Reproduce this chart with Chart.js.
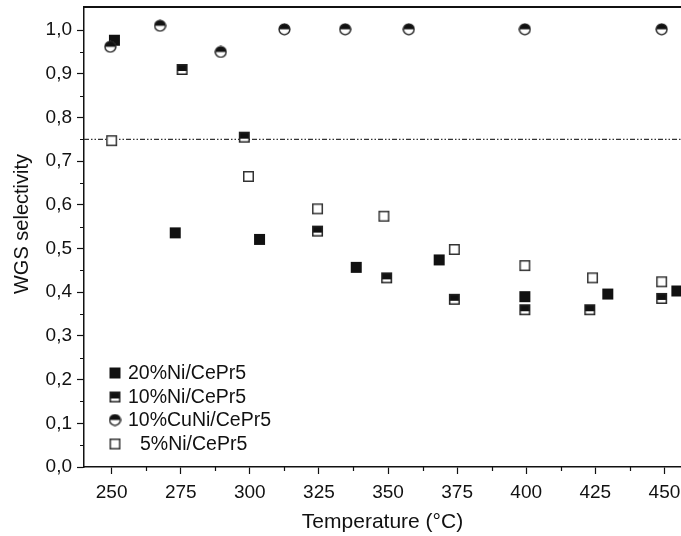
<!DOCTYPE html>
<html>
<head>
<meta charset="utf-8">
<script src="https://cdn.jsdelivr.net/npm/chart.js@4.4.1/dist/chart.umd.min.js"></script>
<style>
  html, body { margin: 0; padding: 0; background: #fff; }
  #wrap { width: 681px; height: 536px; position: relative; }
</style>
</head>
<body>
<div id="wrap"><canvas id="chart" width="681" height="536"></canvas></div>
<script>
// data
const temps20 = [251, 273, 303.5, 338.5, 368.5, 399.5, 429.5, 454.5];
const sel20 = [0.977, 0.536, 0.521, 0.457, 0.474, 0.390, 0.396, 0.403];

const temps10 = [275.5, 298, 324.5, 349.5, 374, 399.5, 423, 449];
const sel10 = [0.910, 0.755, 0.540, 0.433, 0.384, 0.360, 0.360, 0.386];

const tempsCuNi = [249.5, 267.5, 289.5, 312.5, 334.5, 357.5, 399.5, 449];
const selCuNi = [0.962, 1.010, 0.950, 1.002, 1.002, 1.002, 1.002, 1.002];

const temps5 = [250, 299.5, 324.5, 348.5, 374, 399.5, 424, 449];
const sel5 = [0.747, 0.665, 0.591, 0.574, 0.498, 0.461, 0.433, 0.424];

const refTemps = [240, 456];
const refSel = [0.75, 0.75];

const xTicks = [250, 275, 300, 325, 350, 375, 400, 425, 450];
const yTicks = [0, 0.1, 0.2, 0.3, 0.4, 0.5, 0.6, 0.7, 0.8, 0.9, 1.0];

const labels = ['20%Ni/CePr5', '10%Ni/CePr5', '10%CuNi/CePr5', '5%Ni/CePr5'];
const yTitle = 'WGS selectivity';

const FONT = "'Liberation Sans', Arial, sans-serif";
const INK = '#111';

// marker images
function makeMarker(kind) {
  const c = document.createElement('canvas');
  c.width = 13; c.height = 13;
  const g = c.getContext('2d');
  if (kind === 'full') {
    g.fillStyle = INK;
    g.fillRect(1, 1, 11, 11);
  } else if (kind === 'halfSquare') {
    g.fillStyle = '#fff';
    g.fillRect(1, 1, 11, 11);
    g.fillStyle = INK;
    g.fillRect(1, 1, 11, 7);
    g.strokeStyle = '#222';
    g.lineWidth = 1.5;
    g.strokeRect(1.75, 1.75, 9.5, 9.5);
  } else if (kind === 'halfCircle') {
    g.fillStyle = '#fff';
    g.beginPath(); g.arc(6.5, 6.5, 5.7, 0, Math.PI * 2); g.fill();
    g.fillStyle = INK;
    g.beginPath(); g.arc(6.5, 6.5, 5.7, Math.PI, Math.PI * 2); g.closePath(); g.fill();
    g.strokeStyle = '#222';
    g.lineWidth = 1.4;
    g.beginPath(); g.arc(6.5, 6.5, 5.4, 0, Math.PI * 2); g.stroke();
  } else {
    g.fillStyle = '#fff';
    g.fillRect(1, 1, 11, 11);
    g.strokeStyle = '#333';
    g.lineWidth = 1.5;
    g.strokeRect(1.75, 1.75, 9.5, 9.5);
  }
  return c;
}

const markers = [makeMarker('full'), makeMarker('halfSquare'), makeMarker('halfCircle'), makeMarker('open')];

function pts(xs, ys) {
  return xs.map((t, i) => ({ x: t, y: ys[i] }));
}

function midpoints(arr) {
  const out = [];
  for (let i = 0; i < arr.length - 1; i++) out.push((arr[i] + arr[i + 1]) / 2);
  return out;
}

// top frame line, minor ticks, y title and the in-plot legend
const frame = {
  id: 'frame',
  afterDraw(chart) {
    const { ctx, chartArea: a, scales: { x, y } } = chart;
    ctx.save();
    ctx.strokeStyle = INK;
    ctx.lineWidth = 2;
    ctx.beginPath();
    ctx.moveTo(a.left, a.top);
    ctx.lineTo(a.right, a.top);
    ctx.stroke();

    ctx.lineWidth = 1.2;
    ctx.beginPath();
    midpoints(xTicks).forEach(v => {
      const px = Math.round(x.getPixelForValue(v)) + 0.5;
      ctx.moveTo(px, a.bottom); ctx.lineTo(px, a.bottom + 4);
    });
    midpoints(yTicks).forEach(v => {
      const py = Math.round(y.getPixelForValue(v)) + 0.5;
      ctx.moveTo(a.left, py); ctx.lineTo(a.left - 4, py);
    });
    ctx.stroke();

    ctx.fillStyle = INK;
    ctx.textBaseline = 'middle';

    // y axis title
    ctx.save();
    ctx.translate(22, 224);
    ctx.rotate(-Math.PI / 2);
    ctx.textAlign = 'center';
    ctx.font = '20px ' + FONT;
    ctx.fillText(yTitle, 0, 0);
    ctx.restore();

    // legend
    const rowY = [373, 397, 420, 444];
    const indent = [0, 0, 0, 12];
    ctx.font = '19.5px ' + FONT;
    chart.data.datasets.slice(0, 4).forEach((ds, i) => {
      const m = markers[i];
      ctx.drawImage(m, 115 - m.width / 2, rowY[i] - m.height / 2);
      ctx.fillText(ds.label, 128 + indent[i], rowY[i] + 1);
    });
    ctx.restore();
  }
};

const datasets = [
  { label: labels[0], data: pts(temps20, sel20), pointStyle: markers[0], order: 2 },
  { label: labels[1], data: pts(temps10, sel10), pointStyle: markers[1], order: 1 },
  { label: labels[2], data: pts(tempsCuNi, selCuNi), pointStyle: markers[2], order: 0 },
  { label: labels[3], data: pts(temps5, sel5), pointStyle: markers[3], order: 3 },
].map(ds => Object.assign({ showLine: false, pointRadius: 6, pointHoverRadius: 6, clip: false }, ds));

datasets.push({
  label: 'ref',
  data: pts(refTemps, refSel),
  showLine: true,
  pointRadius: 0,
  borderColor: '#333',
  borderWidth: 1.2,
  borderDash: [5, 2, 1.5, 2, 1.5, 2],
  order: 9
});

new Chart(document.getElementById('chart'), {
  type: 'scatter',
  data: { datasets },
  options: {
    responsive: false,
    animation: false,
    events: [],
    layout: { autoPadding: false, padding: { top: 7, right: 0, left: 0, bottom: 0 } },
    plugins: { legend: { display: false }, tooltip: { enabled: false } },
    scales: {
      x: {
        type: 'linear',
        min: 240,
        max: 456,
        afterBuildTicks: s => { s.ticks = xTicks.map(v => ({ value: v })); },
        afterFit: s => { s.height = 69; s.paddingLeft = 0; s.paddingRight = 0; },
        grid: { drawOnChartArea: false, tickLength: 7, tickColor: INK, tickWidth: 1.2 },
        border: { color: INK, width: 1.5 },
        ticks: { color: INK, font: { family: FONT, size: 19 }, padding: 7, maxRotation: 0, autoSkip: false },
        title: { display: true, text: 'Temperature (°C)', color: INK, font: { family: FONT, size: 21 }, padding: { top: 0, bottom: 1 } }
      },
      y: {
        min: 0,
        max: 1.053,
        afterBuildTicks: s => { s.ticks = yTicks.map(v => ({ value: v })); },
        afterFit: s => { s.width = 84; s.paddingTop = 0; s.paddingBottom = 0; },
        grid: { drawOnChartArea: false, tickLength: 7, tickColor: INK, tickWidth: 1.2 },
        border: { color: INK, width: 1.5 },
        ticks: {
          color: INK,
          font: { family: FONT, size: 19 },
          padding: 5,
          callback: v => v.toFixed(1).replace('.', ',')
        }
      }
    }
  },
  plugins: [frame]
});
</script>
</body>
</html>
